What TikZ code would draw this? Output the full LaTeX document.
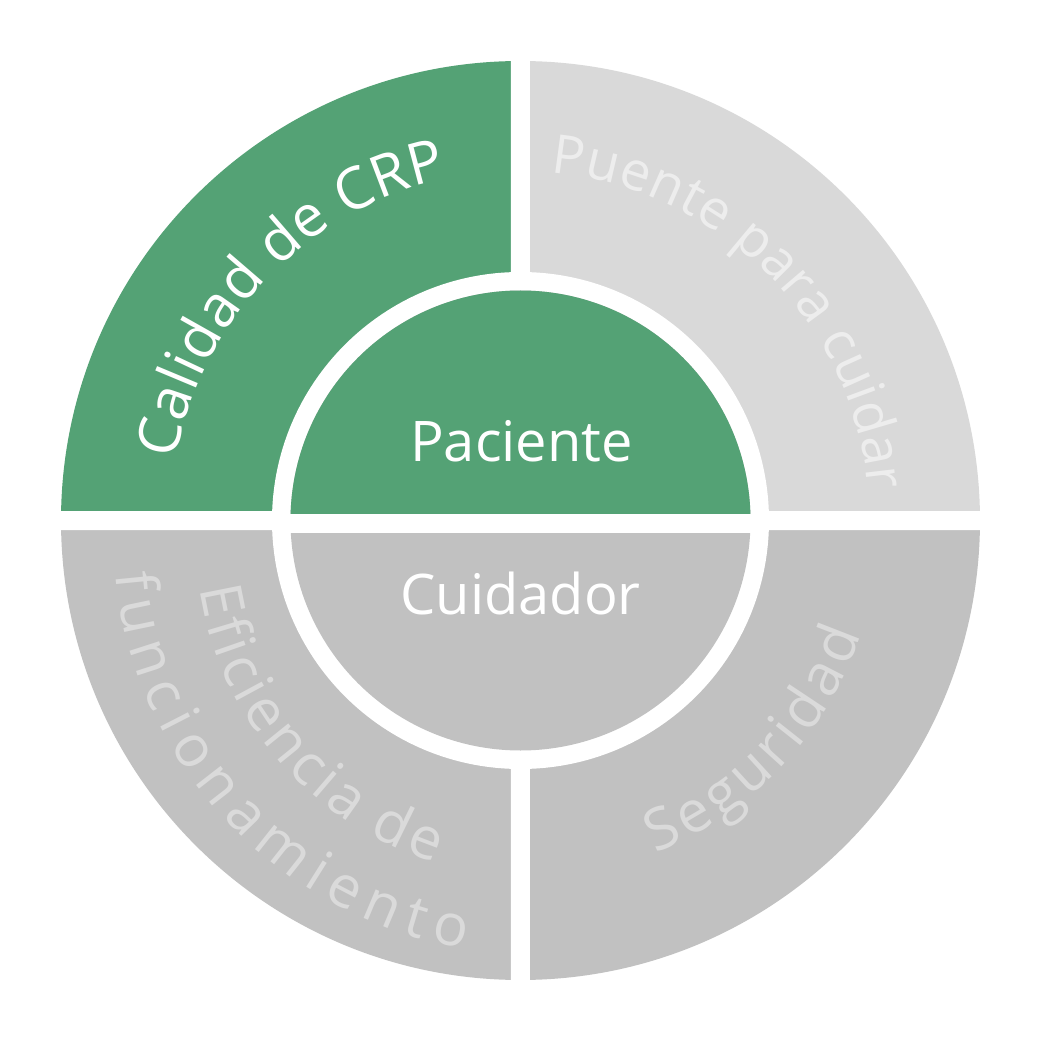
\documentclass[tikz,border=0pt]{standalone}
\usepackage{fontspec}
\setmainfont{Open Sans}
\usetikzlibrary{decorations.text}
\definecolor{crpgreen}{RGB}{84,162,117}
\definecolor{crplight}{RGB}{217,217,217}
\definecolor{crpmid}{RGB}{193,193,193}
\definecolor{lighttxt}{RGB}{237,237,237}
\definecolor{midtxt}{RGB}{218,218,218}
\newcommand{\ringfont}[1]{\fontsize{#1}{#1}\selectfont}

\begin{document}
\begin{tikzpicture}[x=1pt,y=1pt,
    arctext/.style n args={3}{decorate,decoration={text along path,text align=fit to path,
      text={|\ringfont{#1}\color{#2}|#3}}}]
  \useasboundingbox (-520.5,-521.5) rectangle (521.5,520.5);
  \fill[crpgreen] (0,0) -- (180:459.5) arc (180:90:459.5) -- cycle;
  \fill[crplight] (0,0) -- (90:459.5) arc (90:0:459.5) -- cycle;
  \fill[crpmid] (0,0) -- (0:459.5) arc (0:-180:459.5) -- cycle;
  \fill[white] (-9.5,-465) rectangle (9.5,465) (-465,-9.5) rectangle (465,9.5);
  \fill[white] (0,0) circle (248.5);
  \fill[crpmid] (0,0) circle (230);
  \fill[crpgreen] (0:230) arc (0:180:230) -- cycle;
  \fill[white] (-235,-12.5) rectangle (235,6.5);
  \node[anchor=base,white,font=\ringfont{56}] (paciente) at (1,59.5) {Paciente};
  \node[anchor=base,white,font=\ringfont{56}] (cuidador) at (0,-93.5) {Cuidador};
  \path[arctext={58}{white}{Calidad de CRP}] (170:350) arc (170:102:350);
  \path[arctext={54}{lighttxt}{Puente para cuidar}] (85:349) arc (85:5:349);
  \path[arctext={58}{midtxt}{Seguridad}] (-68:359) arc (-68:-18.5:359);
  \path[arctext={58}{midtxt}{Eficiencia de}] plot[domain=192:256,samples=50] (\x:{328+25*(\x-192)/64});
  \path[arctext={58}{midtxt}{funcionamiento}] plot[domain=187.4:262.6,samples=50] (\x:{408+24*(\x-187.4)/75.2});
\end{tikzpicture}
\end{document}
